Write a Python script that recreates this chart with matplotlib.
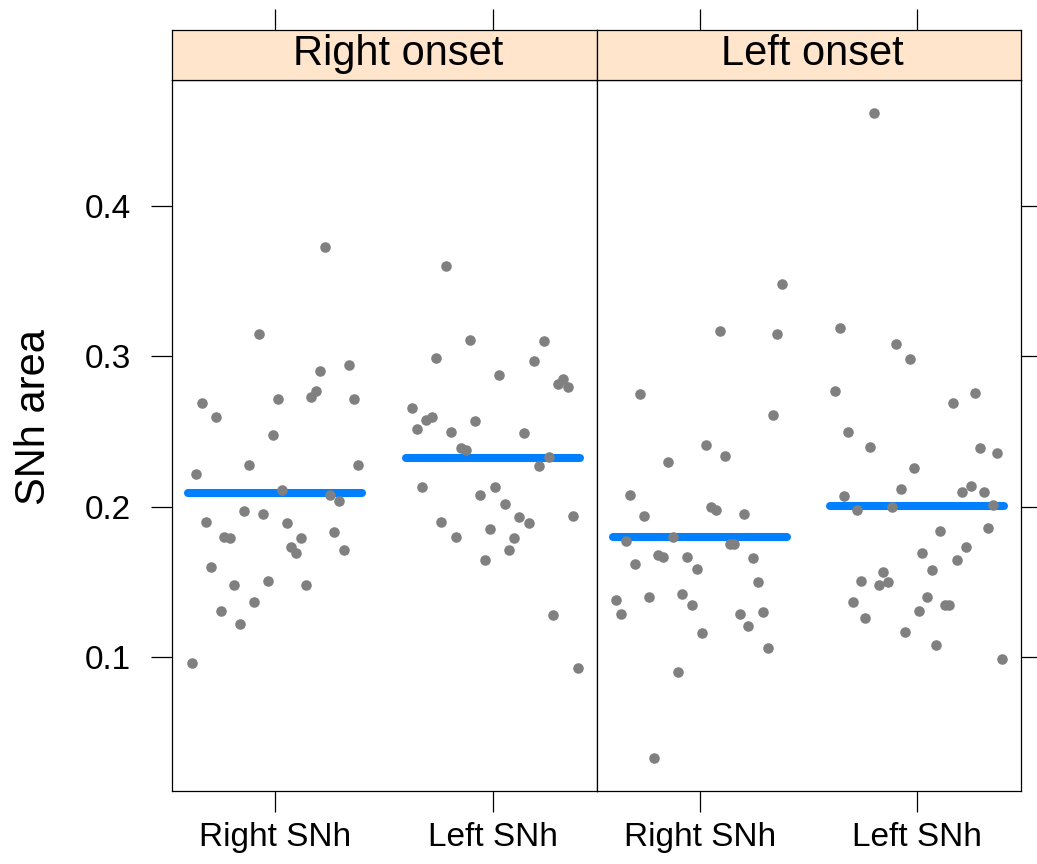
import matplotlib
matplotlib.use('Agg')
import matplotlib.pyplot as plt
import numpy as np

plt.rcParams['font.family'] = ['Liberation Sans', 'DejaVu Sans']

# ---------------- data ----------------
panels = ['Right onset', 'Left onset']
categories = ['Right SNh', 'Left SNh']
yticks = [0.1, 0.2, 0.3, 0.4]
ytick_labels = ['0.1', '0.2', '0.3', '0.4']
ylabel = 'SNh area'

# Right onset / Right SNh
ro_right_vals = [0.373, 0.315, 0.294, 0.290, 0.269, 0.260, 0.272, 0.273, 0.277, 0.272,
                 0.248, 0.228, 0.222, 0.228, 0.211, 0.208, 0.204, 0.197, 0.195, 0.190,
                 0.189, 0.180, 0.179, 0.179, 0.183, 0.173, 0.169, 0.171, 0.160, 0.148,
                 0.151, 0.148, 0.137, 0.131, 0.122, 0.096]
ro_right_jit = [0.229, -0.075, 0.340, 0.207, -0.336, -0.273, 0.012, 0.163, 0.187, 0.361,
                -0.011, -0.120, -0.361, 0.382, 0.034, 0.250, 0.295, -0.143, -0.054, -0.317,
                0.055, -0.232, -0.206, 0.121, 0.272, 0.075, 0.098, 0.317, -0.294, -0.186,
                -0.032, 0.141, -0.098, -0.250, -0.163, -0.381]

# Right onset / Left SNh
ro_left_vals = [0.360, 0.311, 0.310, 0.299, 0.297, 0.288, 0.282, 0.285, 0.280, 0.266,
                0.258, 0.260, 0.252, 0.257, 0.250, 0.249, 0.239, 0.238, 0.233, 0.227,
                0.213, 0.208, 0.213, 0.202, 0.194, 0.190, 0.193, 0.189, 0.180, 0.185,
                0.179, 0.171, 0.165, 0.128, 0.093]
ro_left_jit = [-0.215, -0.105, 0.232, -0.261, 0.187, 0.029, 0.298, 0.323, 0.346, -0.373,
               -0.307, -0.281, -0.350, -0.081, -0.194, 0.143, -0.149, -0.124, 0.255, 0.209,
               -0.327, -0.060, 0.009, 0.054, 0.366, -0.240, 0.118, 0.166, -0.171, -0.015,
               0.098, 0.075, -0.035, 0.276, 0.390]

# Left onset / Right SNh
lo_right_vals = [0.348, 0.317, 0.315, 0.275, 0.261, 0.241, 0.234, 0.230, 0.208, 0.194,
                 0.200, 0.198, 0.195, 0.177, 0.180, 0.175, 0.175, 0.168, 0.167, 0.167,
                 0.166, 0.162, 0.159, 0.150, 0.138, 0.140, 0.142, 0.135, 0.129, 0.129,
                 0.130, 0.121, 0.116, 0.106, 0.090, 0.033]
lo_right_jit = [0.379, 0.095, 0.356, -0.275, 0.335, 0.029, 0.118, -0.146, -0.321, -0.255,
                0.051, 0.074, 0.203, -0.340, -0.123, 0.137, 0.158, -0.190, -0.167, -0.059,
                0.247, -0.298, -0.015, 0.269, -0.386, -0.234, -0.080, -0.037, -0.364, 0.183,
                0.290, 0.224, 0.008, 0.312, -0.101, -0.211]

# Left onset / Left SNh
lo_left_vals = [0.462, 0.319, 0.308, 0.298, 0.277, 0.276, 0.269, 0.250, 0.240, 0.239,
                0.236, 0.226, 0.212, 0.210, 0.214, 0.210, 0.207, 0.198, 0.200, 0.201,
                0.184, 0.186, 0.169, 0.173, 0.165, 0.158, 0.157, 0.151, 0.148, 0.150,
                0.137, 0.140, 0.135, 0.135, 0.126, 0.131, 0.117, 0.108, 0.099]
lo_left_jit = [-0.197, -0.356, -0.097, -0.034, -0.378, 0.267, 0.166, -0.317, -0.215, 0.287,
               0.367, -0.015, -0.075, 0.206, 0.249, 0.309, -0.338, -0.278, -0.115, 0.349,
               0.105, 0.327, 0.024, 0.226, 0.184, 0.066, -0.158, -0.257, -0.178, -0.134,
               -0.296, 0.046, 0.126, 0.147, -0.238, 0.006, -0.055, 0.086, 0.388]

panel_data = [
    [(ro_right_vals, ro_right_jit), (ro_left_vals, ro_left_jit)],
    [(lo_right_vals, lo_right_jit), (lo_left_vals, lo_left_jit)],
]

# ---------------- layout ----------------
W, H = 1037, 864
fig = plt.figure(figsize=(W / 100, H / 100), dpi=100)
fig.patch.set_facecolor('white')


def rect(x0, y0, x1, y1):
    return [x0 / W, 1 - y1 / H, (x1 - x0) / W, (y1 - y0) / H]


panel_x = [(171.5, 596.5), (596.5, 1020.5)]
strip_text_x = [0.533, 0.51]
plot_top, plot_bot = 80, 791
strip_top = 30
xlim = (0.525, 2.475)
ylim = (0.0111, 0.4838)

point_col = '#808080'
line_col = '#0080FF'
strip_col = '#FFE5CC'
tick_len = 15
spine_lw = 0.9
tick_fs = 24

for i, (x0, x1) in enumerate(panel_x):
    ax = fig.add_axes(rect(x0, plot_top, x1, plot_bot))
    ax.set_xlim(*xlim)
    ax.set_ylim(*ylim)
    pos = np.arange(1, len(categories) + 1)
    for j, (vals, jit) in enumerate(panel_data[i]):
        vals = np.asarray(vals)
        jit = np.asarray(jit)
        m = vals.mean()
        ax.plot([pos[j] - 0.4, pos[j] + 0.4], [m, m], color=line_col, lw=5.8,
                solid_capstyle='round', zorder=2)
        ax.plot(pos[j] + jit, vals, 'o', color=point_col, ms=7.6, mec='none', zorder=3)

    for s in ax.spines.values():
        s.set_linewidth(spine_lw)
        s.set_color('black')

    ax.set_xticks(pos)
    ax.set_xticklabels(categories, fontsize=tick_fs)
    ax.tick_params(axis='x', which='both', direction='out', length=tick_len,
                   width=spine_lw, pad=7, bottom=True, top=False,
                   labelbottom=True, labeltop=False)
    ax.set_yticks(yticks)
    if i == 0:
        ax.set_yticklabels(ytick_labels, fontsize=tick_fs)
        ax.tick_params(axis='y', direction='out', length=tick_len, width=spine_lw,
                       pad=14.5, left=True, right=False, labelleft=True, labelright=False)
    else:
        ax.set_yticklabels([])
        ax.tick_params(axis='y', direction='out', length=tick_len, width=spine_lw,
                       left=False, right=True, labelleft=False, labelright=False)

    # strip
    st = fig.add_axes(rect(x0, strip_top, x1, plot_top))
    st.set_facecolor(strip_col)
    st.set_xlim(*xlim)
    st.set_ylim(0, 1)
    st.set_yticks([])
    st.set_xticks(pos)
    st.tick_params(axis='x', direction='out', length=tick_len, width=spine_lw,
                   bottom=False, top=True, labelbottom=False, labeltop=False)
    for s in st.spines.values():
        s.set_linewidth(spine_lw)
        s.set_color('black')
    st.text(strip_text_x[i], 0.3, panels[i], transform=st.transAxes, ha='center',
            va='baseline', fontsize=30)

fig.text(34 / W, 1 - 417 / H, ylabel, rotation=90, ha='center', va='center', fontsize=30)

fig.savefig('out.png', dpi=100, facecolor='white')
